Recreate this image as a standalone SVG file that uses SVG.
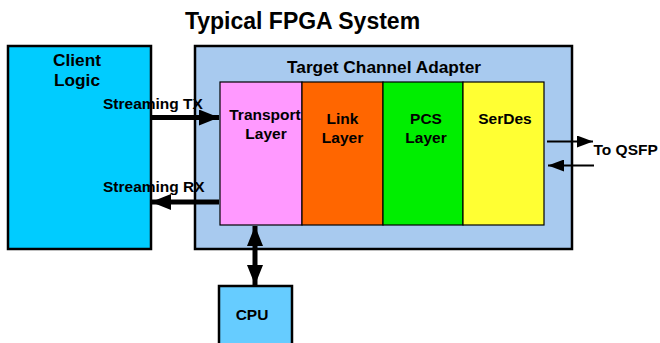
<svg xmlns="http://www.w3.org/2000/svg" width="660" height="343" viewBox="0 0 660 343">
  <style>
    text { font-family: "Liberation Sans", Arial, sans-serif; font-weight: bold; fill: #000; }
    .title { font-size: 23px; }
    .big { font-size: 17.3px; }
    .lbl { font-size: 15.5px; }
    .side { font-size: 15.5px; }
    .mid { text-anchor: middle; }
    .box { stroke: #000; stroke-width: 2.5; }
    .layer { stroke: #000; stroke-width: 1.2; }
    .thick { stroke: #000; stroke-width: 5; fill: none; }
    .thin { stroke: #000; stroke-width: 2; fill: none; }
  </style>
  <defs>
    <marker id="bigHead" viewBox="0 0 20 16" refX="20" refY="8" markerWidth="20" markerHeight="16" markerUnits="userSpaceOnUse" orient="auto-start-reverse">
      <path d="M0,0 L20,8 L0,16 Z" fill="#000"/>
    </marker>
    <marker id="smallHead" viewBox="0 0 16 12" refX="16" refY="6" markerWidth="16" markerHeight="12" markerUnits="userSpaceOnUse" orient="auto-start-reverse">
      <path d="M0,0 L16,6 L0,12 Z" fill="#000"/>
    </marker>
  </defs>

  <rect width="660" height="343" fill="#fff"/>

  <text class="title mid" x="302.5" y="29">Typical FPGA System</text>

  <g id="client-logic">
    <rect class="box" x="8" y="46" width="143" height="203" fill="#00CCFF"/>
    <text class="big mid" x="77" y="66">Client</text>
    <text class="big mid" x="77" y="86">Logic</text>
  </g>

  <g id="target-channel-adapter">
    <rect class="box" x="195" y="46" width="377" height="203" fill="#A8CAEF"/>
    <text class="big mid" x="384" y="73">Target Channel Adapter</text>
  </g>

  <g id="transport-layer">
    <rect class="layer" x="220" y="82" width="82" height="143" fill="#FF99FF"/>
    <text class="lbl mid" x="265" y="120">Transport</text>
    <text class="lbl mid" x="266" y="139">Layer</text>
  </g>

  <g id="link-layer">
    <rect class="layer" x="302" y="82" width="81" height="143" fill="#FF6600"/>
    <text class="lbl mid" x="342.5" y="123.5">Link</text>
    <text class="lbl mid" x="342.5" y="143">Layer</text>
  </g>

  <g id="pcs-layer">
    <rect class="layer" x="383" y="82" width="80" height="143" fill="#00EE00"/>
    <text class="lbl mid" x="426" y="123.5">PCS</text>
    <text class="lbl mid" x="426" y="143">Layer</text>
  </g>

  <g id="serdes">
    <rect class="layer" x="463" y="82" width="81" height="143" fill="#FFFF33"/>
    <text class="lbl mid" x="505" y="123.5">SerDes</text>
  </g>

  <g id="cpu">
    <rect class="box" x="219" y="286" width="73" height="70" fill="#66CCFF"/>
    <text class="lbl mid" x="252" y="319.5">CPU</text>
  </g>

  <g id="connectors">
    <line class="thick" x1="151" y1="117.5" x2="219" y2="117.5" marker-end="url(#bigHead)"/>
    <line class="thick" x1="219" y1="202" x2="151" y2="202" marker-end="url(#bigHead)"/>
    <line class="thick" x1="255" y1="226" x2="255" y2="285" marker-start="url(#bigHead)" marker-end="url(#bigHead)"/>
    <line class="thin" x1="547" y1="141.5" x2="593" y2="141.5" marker-end="url(#smallHead)"/>
    <line class="thin" x1="594" y1="165.5" x2="548" y2="165.5" marker-end="url(#smallHead)"/>
    <text class="side" x="103" y="108.5">Streaming TX</text>
    <text class="side" x="103" y="192">Streaming RX</text>
    <text class="side" x="593.5" y="154.5">To QSFP</text>
  </g>
</svg>
